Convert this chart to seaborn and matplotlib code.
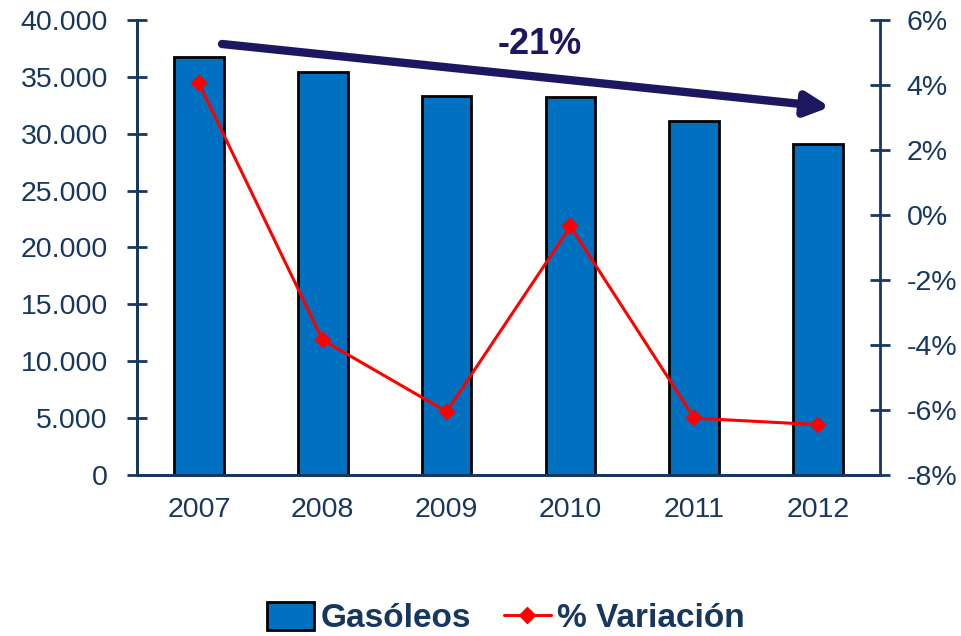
import pandas as pd
import matplotlib.pyplot as plt
import matplotlib.ticker as mticker
from matplotlib.patches import Patch
from matplotlib.lines import Line2D
import seaborn as sns

# data
years = ['2007', '2008', '2009', '2010', '2011', '2012']
gasoleos = [36750, 35400, 33350, 33250, 31100, 29100]
variacion = [4.05, -3.85, -6.05, -0.35, -6.25, -6.45]

df = pd.DataFrame({'Año': years, 'Gasóleos': gasoleos, 'Variación': variacion})

sns.set_style('white')
plt.rcParams['font.family'] = ['Liberation Sans', 'DejaVu Sans']

navy = '#17375E'
bar_color = '#0070C0'
arrow_color = '#1C1760'

fig = plt.figure(figsize=(9.61, 6.36), dpi=100)
ax = fig.add_axes([0.1426, 0.2531, 0.7731, 0.7155])

sns.barplot(data=df, x='Año', y='Gasóleos', color=bar_color, edgecolor='black',
            linewidth=2, width=0.4, saturation=1, ax=ax)
ax.set_xlim(-0.5, 5.5)
ax.set_ylim(0, 40000)
ax.yaxis.set_major_locator(mticker.MultipleLocator(5000))
ax.yaxis.set_major_formatter(mticker.FuncFormatter(lambda v, p: f'{int(v):,}'.replace(',', '.')))
ax.set_xlabel('')
ax.set_ylabel('')

ax2 = ax.twinx()
sns.pointplot(data=df, x='Año', y='Variación', color='red', markers='D',
              markersize=7, linewidth=2.2, ax=ax2)
ax2.set_xlim(-0.5, 5.5)
ax2.set_ylim(-8, 6)
ax2.yaxis.set_major_locator(mticker.MultipleLocator(2))
ax2.yaxis.set_major_formatter(mticker.FuncFormatter(lambda v, p: f'{int(round(v))}%'))
ax2.set_xlabel('')
ax2.set_ylabel('')

for a in (ax, ax2):
    for s in a.spines.values():
        s.set_color(navy)
        s.set_linewidth(2)
    a.spines['top'].set_visible(False)
ax.spines['right'].set_visible(False)

ax.tick_params(axis='y', direction='inout', length=14, width=2, color=navy,
               labelcolor=navy, labelsize=20.5, pad=14)
ax2.tick_params(axis='y', direction='inout', length=14, width=2, color=navy,
                labelcolor=navy, labelsize=20.5, pad=12)
ax.tick_params(axis='x', length=0, labelcolor=navy, labelsize=20.5, pad=16)
ax.set_xticks([-0.5, 0.5, 1.5, 2.5, 3.5, 4.5, 5.5], minor=True)
ax.tick_params(axis='x', which='minor', direction='inout', length=14, width=2, color=navy)

# trend arrow and label
ax.annotate('', xy=(830, 636 - 107), xytext=(222, 636 - 44),
            xycoords='figure pixels', textcoords='figure pixels',
            arrowprops=dict(arrowstyle='-|>,head_length=1.4,head_width=0.7',
                            color=arrow_color, lw=6, shrinkA=0, shrinkB=0))
fig.text(540 / 961, 1 - 45 / 636, '-21%', ha='center', va='center',
         fontsize=26, fontweight='bold', color=arrow_color)

# legend
handles = [Patch(facecolor=bar_color, edgecolor='black', linewidth=2),
           Line2D([0], [0], color='red', lw=2.2, marker='D', markersize=8)]
fig.legend(handles, ['Gasóleos', '% Variación'], loc='center', ncol=2,
           bbox_to_anchor=(506 / 961, 1 - 618 / 636), frameon=False,
           prop={'weight': 'bold', 'size': 24},
           labelcolor=navy, handlelength=1.4, handleheight=0.95,
           handletextpad=0.2, columnspacing=1.0)

fig.savefig('out.png', dpi=100)
